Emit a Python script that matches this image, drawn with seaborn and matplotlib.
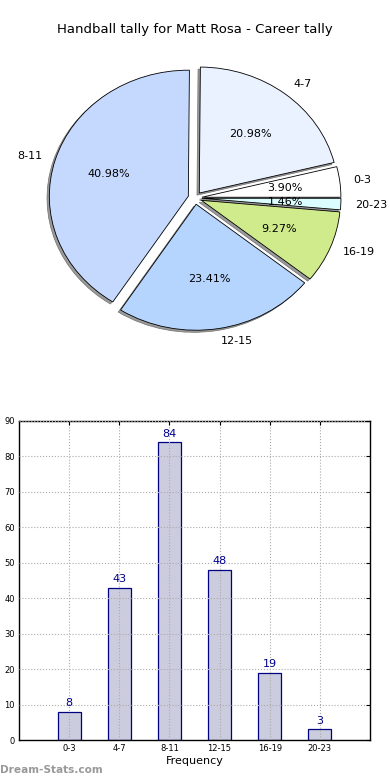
import matplotlib
matplotlib.use("Agg")
import matplotlib.pyplot as plt
import seaborn as sns
import pandas as pd

categories = ["0-3", "4-7", "8-11", "12-15", "16-19", "20-23"]
values = [8, 43, 84, 48, 19, 3]
pie_colors = ["#ffffff", "#eaf1ff", "#c5d9ff", "#b5d5ff", "#d0eb8c", "#dcfdff"]
title = "Handball tally for Matt Rosa - Career tally"
xlabel = "Frequency"
yticks = [0, 10, 20, 30, 40, 50, 60, 70, 80, 90]

sns.set_style("white")
plt.rcParams['font.family'] = ['DejaVu Sans']
plt.rcParams['text.color'] = 'black'
plt.rcParams['axes.labelcolor'] = 'black'
plt.rcParams['xtick.color'] = 'black'
plt.rcParams['ytick.color'] = 'black'

W, H = 390, 780
fig = plt.figure(figsize=(W / 100, H / 100), dpi=100)
fig.patch.set_facecolor("white")

fig.text(0.5, 1 - 30 / H, title, ha="center", va="center", fontsize=9.5, color="black")

# Pie axes: horizontal unit 139px, vertical unit 126px, center (195,198)
cx, cy = 195, 198
ux, uy = 139, 126
lim = 1.2
pw, ph = 2 * lim * ux, 2 * lim * uy
ax1 = fig.add_axes([(cx - pw / 2) / W, 1 - (cy + ph / 2) / H, pw / W, ph / H])
ax1.pie(values, labels=categories, colors=pie_colors, explode=[0.05] * len(values),
        autopct="%1.2f%%", startangle=0,
        shadow=dict(ox=-0.012, oy=-0.012, facecolor="#9a9a9a", edgecolor="#707070",
                    linewidth=0.5, alpha=1.0),
        wedgeprops=dict(edgecolor="black", linewidth=0.6),
        textprops=dict(fontsize=8, color="black"))
ax1.set_aspect("auto")
ax1.set_xlim(-lim, lim)
ax1.set_ylim(-lim, lim)
ax1.axis("off")

# Bar axes
left, right, top, bottom = 19, 370, 421, 740
ax2 = fig.add_axes([left / W, 1 - bottom / H, (right - left) / W, (bottom - top) / H])
df = pd.DataFrame({"cat": categories, "val": values})
sns.barplot(data=df, x="cat", y="val", ax=ax2, color="#ccccdf", width=0.46,
            edgecolor="#000080", linewidth=0.9, saturation=1)
for i, v in enumerate(values):
    ax2.text(i, v + 1, str(v), ha="center", va="bottom", fontsize=8, color="#00008b")
ax2.set_xlim(-1, 6)
ax2.set_ylim(0, 90)
ax2.set_yticks(yticks)
ax2.set_xlabel(xlabel, fontsize=8, labelpad=2)
ax2.set_ylabel("")
ax2.grid(True, linestyle=":", color="#aaaaaa", linewidth=0.8)
ax2.set_axisbelow(False)
for b in ax2.patches:
    b.set_zorder(1)
ax2.tick_params(axis="both", which="both", direction="in", labelsize=6, length=3,
                top=True, right=True, pad=3)
for s in ax2.spines.values():
    s.set_color("black")
    s.set_linewidth(1.0)

fig.text(0 / W, 1 - 770 / H, "Dream-Stats.com", ha="left", va="center",
         fontsize=7.6, color="#999999", fontweight="bold")

fig.savefig("out.png", dpi=100)
